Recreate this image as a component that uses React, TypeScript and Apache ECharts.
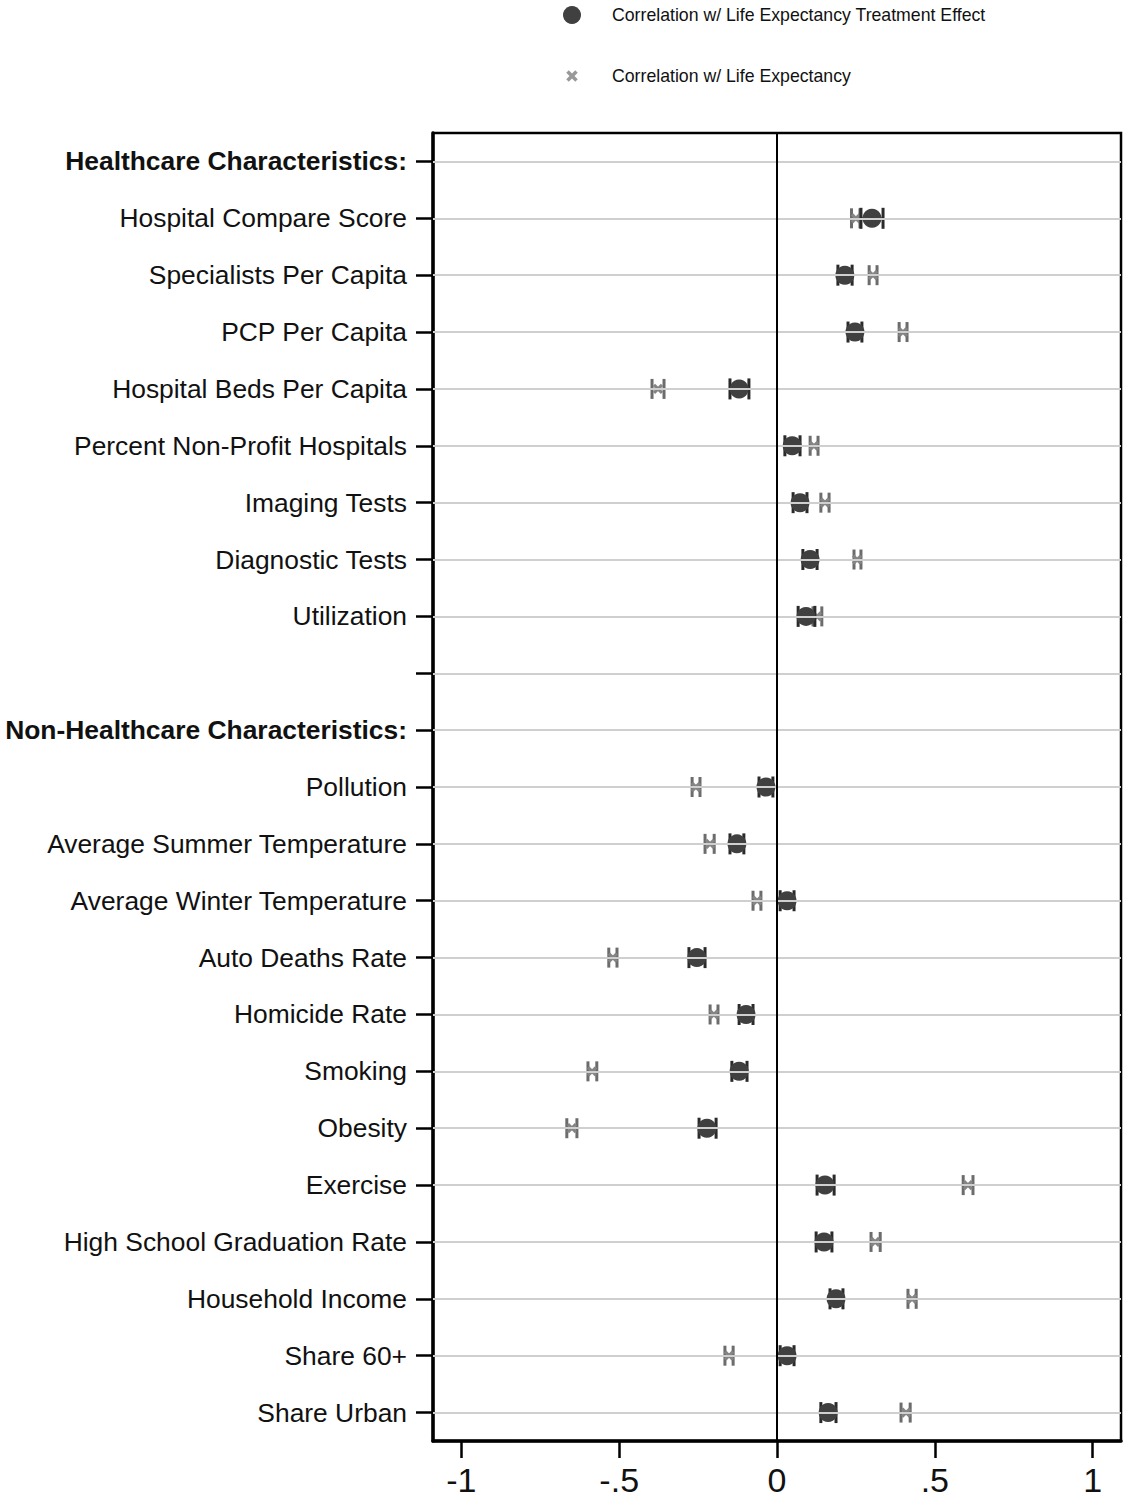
import React, { useEffect, useRef } from 'react';
import * as echarts from 'echarts';

const categories = [
  'Healthcare Characteristics:',
  'Hospital Compare Score',
  'Specialists Per Capita',
  'PCP Per Capita',
  'Hospital Beds Per Capita',
  'Percent Non-Profit Hospitals',
  'Imaging Tests',
  'Diagnostic Tests',
  'Utilization',
  ' ',
  'Non-Healthcare Characteristics:',
  'Pollution',
  'Average Summer Temperature',
  'Average Winter Temperature',
  'Auto Deaths Rate',
  'Homicide Rate',
  'Smoking',
  'Obesity',
  'Exercise',
  'High School Graduation Rate',
  'Household Income',
  'Share 60+',
  'Share Urban',
];

const headerRows = ['Healthcare Characteristics:', 'Non-Healthcare Characteristics:'];

// Correlation w/ Life Expectancy Treatment Effect
const effectMid = [null, 0.301, 0.215, 0.247, -0.120, 0.048, 0.073, 0.105, 0.092, null, null,
  -0.035, -0.127, 0.032, -0.254, -0.098, -0.120, -0.222, 0.152, 0.149, 0.187, 0.032, 0.162];
const effectLo = [null, 0.266, 0.193, 0.225, -0.149, 0.025, 0.051, 0.082, 0.067, null, null,
  -0.057, -0.149, 0.010, -0.279, -0.120, -0.143, -0.247, 0.127, 0.124, 0.168, 0.010, 0.139];
const effectHi = [null, 0.336, 0.238, 0.269, -0.089, 0.073, 0.095, 0.127, 0.120, null, null,
  -0.013, -0.105, 0.054, -0.228, -0.076, -0.095, -0.193, 0.181, 0.174, 0.209, 0.054, 0.187];

// Correlation w/ Life Expectancy
const leMid = [null, 0.250, 0.304, 0.399, -0.377, 0.117, 0.152, 0.254, 0.127, null, null,
  -0.257, -0.212, -0.063, -0.520, -0.200, -0.586, -0.650, 0.605, 0.311, 0.428, -0.152, 0.409];
const leLo = [null, 0.236, 0.292, 0.387, -0.396, 0.105, 0.139, 0.244, 0.114, null, null,
  -0.269, -0.228, -0.076, -0.533, -0.212, -0.599, -0.666, 0.590, 0.298, 0.415, -0.165, 0.393];
const leHi = [null, 0.263, 0.317, 0.412, -0.358, 0.130, 0.165, 0.266, 0.142, null, null,
  -0.244, -0.199, -0.051, -0.507, -0.187, -0.571, -0.634, 0.621, 0.327, 0.441, -0.139, 0.422];

const xTickValues = [-1, -0.5, 0, 0.5, 1];
const xTickLabels = ['-1', '-.5', '0', '.5', '1'];

const seriesNames = ['Correlation w/ Life Expectancy Treatment Effect', 'Correlation w/ Life Expectancy'];

function buildData(mid: (number | null)[], lo: (number | null)[], hi: (number | null)[]) {
  const out: number[][] = [];
  mid.forEach((m, i) => {
    if (m === null) return;
    out.push([m as number, i, lo[i] as number, hi[i] as number]);
  });
  return out;
}

const FONT = 'Arial, "Liberation Sans", Helvetica, sans-serif';

export default function App() {
  const ref = useRef<HTMLDivElement>(null);

  useEffect(() => {
    if (!ref.current) return;
    const chart = echarts.init(ref.current, undefined, { renderer: 'svg' });

    const renderDark = (params: any, api: any) => {
      const mid = api.value(0);
      const yi = api.value(1);
      const lo = api.value(2);
      const hi = api.value(3);
      const pm = api.coord([mid, yi]);
      const pl = api.coord([lo, yi]);
      const ph = api.coord([hi, yi]);
      const capH = 10.5;
      const capStyle = { stroke: '#2a2a2a', lineWidth: 3 };
      return {
        type: 'group',
        children: [
          { type: 'line', shape: { x1: pl[0], y1: pl[1], x2: ph[0], y2: ph[1] }, style: { stroke: '#2a2a2a', lineWidth: 2 } },
          { type: 'line', shape: { x1: pl[0], y1: pl[1] - capH, x2: pl[0], y2: pl[1] + capH }, style: capStyle },
          { type: 'line', shape: { x1: ph[0], y1: ph[1] - capH, x2: ph[0], y2: ph[1] + capH }, style: capStyle },
          { type: 'circle', shape: { cx: pm[0], cy: pm[1], r: 9.5 }, style: { fill: '#404040' } },
        ],
      };
    };

    const renderGray = (params: any, api: any) => {
      const mid = api.value(0);
      const yi = api.value(1);
      const lo = api.value(2);
      const hi = api.value(3);
      const pm = api.coord([mid, yi]);
      const pl = api.coord([lo, yi]);
      const ph = api.coord([hi, yi]);
      const capH = 10;
      const capStyle = { stroke: '#6c6c6c', lineWidth: 3 };
      const s = 4;
      const xStyle = { stroke: '#858585', lineWidth: 3.2 };
      return {
        type: 'group',
        children: [
          { type: 'line', shape: { x1: pl[0], y1: pl[1], x2: ph[0], y2: ph[1] }, style: { stroke: '#6c6c6c', lineWidth: 2 } },
          { type: 'line', shape: { x1: pl[0], y1: pl[1] - capH, x2: pl[0], y2: pl[1] + capH }, style: capStyle },
          { type: 'line', shape: { x1: ph[0], y1: ph[1] - capH, x2: ph[0], y2: ph[1] + capH }, style: capStyle },
          { type: 'line', shape: { x1: pm[0] - s, y1: pm[1] - s, x2: pm[0] + s, y2: pm[1] + s }, style: xStyle },
          { type: 'line', shape: { x1: pm[0] - s, y1: pm[1] + s, x2: pm[0] + s, y2: pm[1] - s }, style: xStyle },
        ],
      };
    };

    const gridLineData = categories.map((c, i) => ({ yAxis: i }));

    const option: any = {
      animation: false,
      backgroundColor: '#ffffff',
      textStyle: { fontFamily: FONT },
      grid: {
        left: 433,
        right: 8,
        top: 133,
        bottom: 59,
        show: true,
        borderColor: '#000',
        borderWidth: 2.5,
        containLabel: false,
      },
      xAxis: {
        type: 'value',
        min: -1.09,
        max: 1.09,
        splitLine: { show: false },
        axisLine: { show: true, onZero: false, lineStyle: { color: '#000', width: 3.5 } },
        axisTick: {
          show: true,
          customValues: xTickValues,
          length: 17,
          lineStyle: { color: '#000', width: 2.5 },
        },
        axisLabel: {
          customValues: xTickValues,
          formatter: (v: number) => {
            const idx = xTickValues.findIndex((t) => Math.abs(t - v) < 1e-9);
            return idx >= 0 ? xTickLabels[idx] : '';
          },
          fontSize: 34,
          color: '#111',
          margin: 22,
          fontFamily: FONT,
        },
      },
      yAxis: {
        type: 'category',
        inverse: true,
        data: categories,
        boundaryGap: true,
        axisLine: { show: true, onZero: false, lineStyle: { color: '#000', width: 3.5 } },
        axisTick: { show: true, alignWithLabel: true, length: 17, lineStyle: { color: '#000', width: 2.5 } },
        splitLine: { show: false },
        axisLabel: {
          interval: 0,
          margin: 26,
          fontSize: 26.4,
          color: '#111',
          fontFamily: FONT,
          formatter: (v: string) => (headerRows.includes(v) ? '{b|' + v + '}' : v),
          rich: {
            b: { fontSize: 26.4, fontWeight: 'bold', color: '#111', fontFamily: FONT },
          },
        },
      },
      series: [
        {
          name: 'gridlines',
          type: 'line',
          data: [],
          silent: true,
          markLine: {
            silent: true,
            symbol: ['none', 'none'],
            label: { show: false },
            lineStyle: { color: '#cfcfcf', width: 2, type: 'solid' },
            data: gridLineData,
          },
        },
        {
          name: 'zeroline',
          type: 'line',
          data: [],
          silent: true,
          markLine: {
            silent: true,
            symbol: ['none', 'none'],
            label: { show: false },
            lineStyle: { color: '#000', width: 2, type: 'solid' },
            data: [{ xAxis: 0 }],
          },
        },
        {
          name: seriesNames[1],
          type: 'custom',
          renderItem: renderGray,
          encode: { x: [0, 2, 3], y: 1 },
          data: buildData(leMid, leLo, leHi),
          z: 3,
        },
        {
          name: seriesNames[0],
          type: 'custom',
          renderItem: renderDark,
          encode: { x: [0, 2, 3], y: 1 },
          data: buildData(effectMid, effectLo, effectHi),
          z: 4,
        },
      ],
      graphic: [
        { type: 'circle', shape: { cx: 572, cy: 15, r: 9 }, style: { fill: '#404040' } },
        {
          type: 'text',
          x: 612,
          y: 15,
          style: { text: seriesNames[0], fontSize: 17.7, fill: '#111', fontFamily: FONT, verticalAlign: 'middle', align: 'left' },
        },
        { type: 'line', shape: { x1: 567.5, y1: 71.5, x2: 576.5, y2: 80.5 }, style: { stroke: '#999', lineWidth: 3.5 } },
        { type: 'line', shape: { x1: 567.5, y1: 80.5, x2: 576.5, y2: 71.5 }, style: { stroke: '#999', lineWidth: 3.5 } },
        {
          type: 'text',
          x: 612,
          y: 76,
          style: { text: seriesNames[1], fontSize: 17.7, fill: '#111', fontFamily: FONT, verticalAlign: 'middle', align: 'left' },
        },
      ],
    };

    chart.setOption(option);
    return () => chart.dispose();
  }, []);

  return (
    <div
      ref={ref}
      style={{ position: 'absolute', left: 0, top: 0, width: 1129, height: 1500, background: '#fff' }}
    />
  );
}
